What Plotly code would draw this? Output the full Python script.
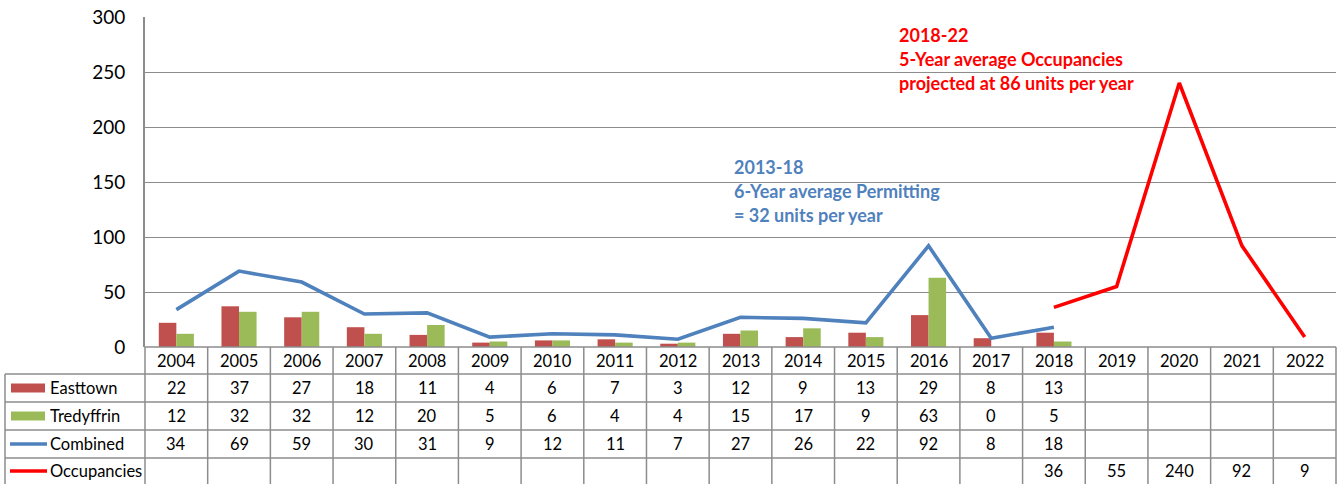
import plotly.graph_objects as go

years = ["2004", "2005", "2006", "2007", "2008", "2009", "2010", "2011", "2012",
         "2013", "2014", "2015", "2016", "2017", "2018", "2019", "2020", "2021", "2022"]
easttown = [22, 37, 27, 18, 11, 4, 6, 7, 3, 12, 9, 13, 29, 8, 13]
tredyffrin = [12, 32, 32, 12, 20, 5, 6, 4, 4, 15, 17, 9, 63, 0, 5]
combined = [34, 69, 59, 30, 31, 9, 12, 11, 7, 27, 26, 22, 92, 8, 18]
occ_years = ["2018", "2019", "2020", "2021", "2022"]
occupancies = [36, 55, 240, 92, 9]

series_names = ["Easttown", "Tredyffrin", "Combined", "Occupancies"]
series_colors = ["#C0504D", "#9BBB59", "#4F81BD", "#FF0000"]

blue_note = ["2013-18", "6-Year average Permitting", "= 32 units per year"]
red_note = ["2018-22", "5-Year average Occupancies", "projected at 86 units per year"]

FONT = "Lato, 'Open Sans', sans-serif"
W, H = 1338, 484
L, R, T, B = 145, 2, 17, 137
pw = W - L - R
ph = H - T - B


def px(x):
    return (x - L) / pw


def py(y):
    return (H - B - y) / ph


fig = go.Figure()
fig.add_bar(x=years[:len(easttown)], y=easttown, marker_color=series_colors[0],
            marker_line_width=0, name=series_names[0])
fig.add_bar(x=years[:len(tredyffrin)], y=tredyffrin, marker_color=series_colors[1],
            marker_line_width=0, name=series_names[1])
fig.add_scatter(x=years[:len(combined)], y=combined, mode="lines",
                line=dict(color=series_colors[2], width=3.6), name=series_names[2])
fig.add_scatter(x=occ_years, y=occupancies, mode="lines",
                line=dict(color=series_colors[3], width=3.6), name=series_names[3])

GRID = "#8C8C8C"
ncat = len(years)


def cat_center(label):
    return (years.index(label) + 0.5) / ncat


shapes = []
row_lines = [374, 402, 430, 458]
shapes.append(dict(type="line", xref="paper", yref="paper", x0=0, x1=1,
                   y0=py(347), y1=py(347), line=dict(color=GRID, width=1.5)))
for yy in row_lines:
    shapes.append(dict(type="line", xref="paper", yref="paper", x0=px(5), x1=1,
                       y0=py(yy), y1=py(yy), line=dict(color=GRID, width=1.5)))
for i in range(ncat + 1):
    shapes.append(dict(type="line", xref="paper", yref="paper", x0=i / ncat, x1=i / ncat,
                       y0=py(347), y1=py(486), line=dict(color=GRID, width=1.5)))
shapes.append(dict(type="line", xref="paper", yref="paper", x0=px(5), x1=px(5),
                   y0=py(374), y1=py(486), line=dict(color=GRID, width=1.5)))

row_centers = [388, 416, 444, 471]
for k in range(2):
    c = row_centers[k]
    shapes.append(dict(type="rect", xref="paper", yref="paper", x0=px(11), x1=px(45),
                       y0=py(c - 4.5), y1=py(c + 4.5), fillcolor=series_colors[k],
                       line=dict(width=0)))
for k in range(2, 4):
    c = row_centers[k]
    shapes.append(dict(type="line", xref="paper", yref="paper", x0=px(10), x1=px(47),
                       y0=py(c), y1=py(c), line=dict(color=series_colors[k], width=3.5)))

annotations = []
cell_font = dict(family=FONT, size=16.5, color="#000000")
for yr in years:
    annotations.append(dict(x=cat_center(yr), xref="paper", y=py(361), yref="paper", text=yr,
                            showarrow=False, font=cell_font, xanchor="center", yanchor="middle"))
rows = [(years[:len(easttown)], easttown), (years[:len(tredyffrin)], tredyffrin),
        (years[:len(combined)], combined), (occ_years, occupancies)]
for k, (xs, vals) in enumerate(rows):
    annotations.append(dict(x=px(48), xref="paper", y=py(row_centers[k]), yref="paper",
                            text=series_names[k], showarrow=False, font=cell_font,
                            xanchor="left", yanchor="middle"))
    for xv, v in zip(xs, vals):
        annotations.append(dict(x=cat_center(xv), xref="paper", y=py(row_centers[k]), yref="paper",
                                text=str(v), showarrow=False, font=cell_font,
                                xanchor="center", yanchor="middle"))

for line, yy in zip(blue_note, [167, 191, 215]):
    annotations.append(dict(x=px(732), xref="paper", y=py(yy), yref="paper", text="<b>" + line + "</b>",
                            showarrow=False, xanchor="left", yanchor="middle",
                            font=dict(family=FONT, size=18, color="#4F81BD")))
for line, yy in zip(red_note, [35, 59, 83]):
    annotations.append(dict(x=px(897), xref="paper", y=py(yy), yref="paper", text="<b>" + line + "</b>",
                            showarrow=False, xanchor="left", yanchor="middle",
                            font=dict(family=FONT, size=18, color="#FF0000")))

fig.update_layout(
    width=W, height=H,
    margin=dict(l=L, r=R, t=T, b=B, autoexpand=False),
    paper_bgcolor="white", plot_bgcolor="white",
    showlegend=False,
    barmode="group", bargap=0.44, bargroupgap=0,
    shapes=shapes, annotations=annotations,
    font=dict(family=FONT, color="#000000"),
)
fig.update_xaxes(type="category", categoryorder="array", categoryarray=years,
                 range=[-0.5, ncat - 0.5], showticklabels=False, showgrid=False,
                 zeroline=False, showline=False, ticks="")
fig.update_yaxes(range=[0, 300], dtick=50, showgrid=True, gridcolor=GRID, gridwidth=1,
                 zeroline=False, showline=True, linecolor=GRID, linewidth=2,
                 ticks="", ticklabelstandoff=14,
                 tickfont=dict(family=FONT, size=19, color="#000000"))

fig.write_html("out.html", config={"displayModeBar": False},
               post_script="document.body.style.margin='0';document.body.style.overflow='hidden';")
